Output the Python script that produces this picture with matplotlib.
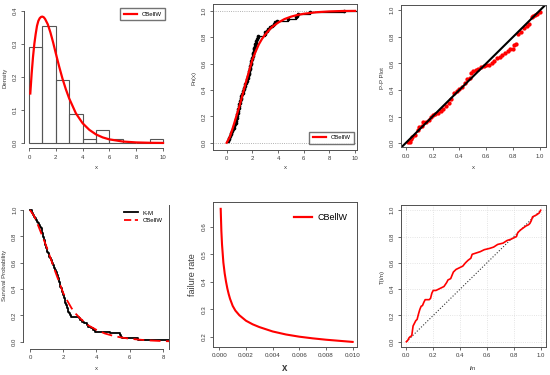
import matplotlib
matplotlib.use('Agg')
import matplotlib.pyplot as plt
import numpy as np

plt.rcParams['font.family'] = ['Liberation Sans', 'DejaVu Sans']

# ---------------- data ----------------
sample_x = [0.10, 0.15, 0.20, 0.25, 0.30, 0.35, 0.45, 0.50, 0.55, 0.60, 0.65, 0.70,
            0.72, 0.75, 0.78, 0.80, 0.82, 0.85, 0.88, 0.90, 0.93, 0.96, 0.99,
            1.02, 1.05, 1.08, 1.12, 1.15, 1.20, 1.25, 1.30, 1.35, 1.38, 1.42, 1.45,
            1.50, 1.55, 1.60, 1.63, 1.66, 1.70, 1.72, 1.75, 1.78, 1.80, 1.83, 1.86,
            1.90, 1.93, 1.96, 1.99,
            2.02, 2.05, 2.08, 2.10, 2.13, 2.16, 2.20, 2.23, 2.27, 2.30, 2.35, 2.40,
            2.45, 2.95, 2.98,
            3.10, 3.25, 3.40, 3.50, 3.65, 3.80, 3.90,
            4.80, 5.40, 5.50, 5.55, 6.50, 9.10]
hist_bins = [0, 1, 2, 3, 4, 5, 6, 7, 8, 9, 10]

dens_x = [0.1, 0.2, 0.3, 0.4, 0.5, 0.6, 0.7, 0.8, 0.9, 1.0, 1.1, 1.2, 1.4, 1.6, 1.8,
          2.0, 2.25, 2.5, 2.75, 3.0, 3.5, 4.0, 4.5, 5.0, 5.5, 6.0, 7.0, 8.0, 9.0, 10.0]
dens_y = [0.150, 0.210, 0.260, 0.300, 0.330, 0.355, 0.370, 0.378, 0.382, 0.383, 0.381,
          0.376, 0.360, 0.335, 0.305, 0.272, 0.232, 0.195, 0.163, 0.135, 0.090, 0.060,
          0.040, 0.026, 0.017, 0.011, 0.0045, 0.0018, 0.0007, 0.0003]

cdf_x = [0, 0.25, 0.5, 0.75, 1.0, 1.25, 1.5, 1.75, 2.0, 2.25, 2.5, 2.75, 3.0, 3.5,
         4.0, 4.5, 5.0, 5.5, 6.0, 7.0, 8.0, 9.0, 10.0]
cdf_y = [0, 0.045, 0.12, 0.20, 0.28, 0.37, 0.46, 0.545, 0.63, 0.69, 0.745, 0.787,
         0.82, 0.875, 0.91, 0.937, 0.955, 0.968, 0.977, 0.989, 0.995, 0.998, 0.999]

pp_x = [0.02, 0.03, 0.04, 0.05, 0.07, 0.09, 0.10, 0.12, 0.13, 0.15, 0.17, 0.19, 0.20,
        0.22, 0.24, 0.26, 0.28, 0.30, 0.32, 0.34, 0.36, 0.38, 0.40, 0.42, 0.44, 0.46,
        0.48, 0.49, 0.50, 0.52, 0.54, 0.56, 0.58, 0.60, 0.62, 0.64, 0.66, 0.68, 0.70,
        0.72, 0.74, 0.76, 0.78, 0.80, 0.81, 0.82, 0.84, 0.86, 0.88, 0.90, 0.92, 0.94,
        0.95, 0.96, 0.98, 1.00]
pp_y = [0.005, 0.010, 0.030, 0.045, 0.060, 0.100, 0.120, 0.130, 0.155, 0.160, 0.170,
        0.200, 0.210, 0.220, 0.230, 0.240, 0.260, 0.280, 0.300, 0.330, 0.380, 0.390,
        0.410, 0.420, 0.450, 0.480, 0.490, 0.530, 0.540, 0.550, 0.555, 0.570, 0.580,
        0.585, 0.590, 0.600, 0.620, 0.640, 0.650, 0.660, 0.680, 0.695, 0.705, 0.710,
        0.740, 0.745, 0.820, 0.840, 0.870, 0.880, 0.900, 0.950, 0.960, 0.965, 0.975, 0.990]

hz_x = [0.0001, 0.00015, 0.0002, 0.0003, 0.0004, 0.0005, 0.0006, 0.0007, 0.0008,
        0.001, 0.0012, 0.0015, 0.002, 0.0025, 0.003, 0.004, 0.005, 0.006, 0.007,
        0.008, 0.009, 0.010]
hz_y = [0.665, 0.585, 0.535, 0.470, 0.430, 0.400, 0.375, 0.355, 0.338, 0.312, 0.295,
        0.278, 0.258, 0.245, 0.235, 0.219, 0.208, 0.200, 0.194, 0.189, 0.185, 0.181]

ttt_x = [0.0, 0.01, 0.02, 0.03, 0.04, 0.05, 0.06, 0.07, 0.08, 0.09, 0.10, 0.11, 0.12,
         0.13, 0.14, 0.15, 0.17, 0.18, 0.19, 0.20, 0.22, 0.24, 0.26, 0.28, 0.30, 0.31,
         0.33, 0.35, 0.37, 0.40, 0.42, 0.44, 0.46, 0.48, 0.49, 0.52, 0.55, 0.58, 0.62,
         0.65, 0.68, 0.72, 0.75, 0.78, 0.80, 0.82, 0.83, 0.85, 0.87, 0.89, 0.91, 0.92,
         0.93, 0.94, 0.96, 0.97, 0.99, 1.00]
ttt_y = [0.0, 0.01, 0.03, 0.04, 0.045, 0.12, 0.14, 0.16, 0.17, 0.21, 0.245, 0.27,
         0.275, 0.30, 0.32, 0.32, 0.32, 0.33, 0.37, 0.39, 0.39, 0.40, 0.41, 0.42, 0.45,
         0.47, 0.48, 0.53, 0.55, 0.565, 0.575, 0.60, 0.62, 0.635, 0.665, 0.675, 0.685,
         0.70, 0.71, 0.72, 0.74, 0.75, 0.77, 0.78, 0.79, 0.80, 0.83, 0.85, 0.865, 0.88,
         0.89, 0.90, 0.92, 0.95, 0.96, 0.965, 0.98, 1.00]

legend_label = 'CBellW'
km_label = 'K-M'

# ---------------- helpers ----------------
W, H = 550, 375
fig = plt.figure(figsize=(5.5, 3.75), dpi=100)
AX = '#505050'
TX = '#3a3a3a'
RED = '#ff0000'
TS = 4.3


def box(x0, y0, x1, y1):
    return [x0 / W, 1 - y1 / H, (x1 - x0) / W, (y1 - y0) / H]


def ftext(x, y, s, rot=0, size=TS, **kw):
    fig.text(x / W, 1 - y / H, s, rotation=rot, fontsize=size, color=TX,
             ha='center', va='center', **kw)


def style(ax, xt, xl, yt, yl, size=TS):
    ax.set_xticks(xt)
    ax.set_xticklabels(xl)
    ax.set_yticks(yt)
    ax.set_yticklabels(yl, rotation=90, va='center')
    ax.tick_params(length=2.5, width=0.6, color=AX, labelsize=size,
                   labelcolor=TX, pad=2)
    for s in ax.spines.values():
        s.set_color(AX)
        s.set_linewidth(0.7)


def fmt(vals, f):
    return [f.format(v) for v in vals]


# ---------------- panel 1: histogram + density ----------------
ax1 = fig.add_axes(box(23.6, 5.7, 168.4, 148.3))
ax1.hist(sample_x, bins=hist_bins, density=True, fill=False, edgecolor='#555555',
         linewidth=0.8)
ax1.plot(dens_x, dens_y, color=RED, lw=1.6)
ax1.set_xlim(-0.4, 10.4)
ax1.set_ylim(-0.016, 0.416)
style(ax1, [0, 2, 4, 6, 8, 10], fmt([0, 2, 4, 6, 8, 10], '{}'),
      [0, 0.1, 0.2, 0.3, 0.4], fmt([0, 0.1, 0.2, 0.3, 0.4], '{:.1f}'))
ax1.spines['top'].set_visible(False)
ax1.spines['right'].set_visible(False)
ax1.spines['left'].set_bounds(0, 0.4)
ax1.spines['bottom'].set_bounds(0, 10)
ax1.legend(handles=[plt.Line2D([], [], color=RED, lw=1.6)], labels=[legend_label],
           loc='upper right', bbox_to_anchor=(168 / W, 1 - 5 / H),
           bbox_transform=fig.transFigure, fontsize=4.3, frameon=True, fancybox=False,
           edgecolor=AX, handlelength=2.2, borderpad=0.6, handletextpad=0.8)
ftext(5, 78, 'Density', rot=90)
ftext(96, 168, 'x')

# ---------------- panel 2: ECDF ----------------
ax2 = fig.add_axes(box(212.7, 3.5, 357.3, 150))
xs = np.sort(np.array(sample_x))
n = len(xs)
ys = np.arange(1, n + 1) / n
ax2.axhline(0, color='#999999', ls=':', lw=0.6)
ax2.axhline(1, color='#999999', ls=':', lw=0.6)
ax2.step(np.r_[xs, 11], np.r_[ys, 1.0], where='post', color='black', lw=0.9)
ax2.plot(xs, ys, 'o', color='black', ms=1.6)
ax2.plot(cdf_x, cdf_y, color=RED, lw=1.6)
ax2.set_xlim(-1.09, 10.17)
ax2.set_ylim(-0.055, 1.055)
style(ax2, [0, 2, 4, 6, 8, 10], fmt([0, 2, 4, 6, 8, 10], '{}'),
      [0, 0.2, 0.4, 0.6, 0.8, 1.0], fmt([0, 0.2, 0.4, 0.6, 0.8, 1.0], '{:.1f}'))
ax2.legend(handles=[plt.Line2D([], [], color=RED, lw=1.6)], labels=[legend_label],
           loc='lower right', bbox_to_anchor=(357.3 / W, 1 - 147 / H),
           bbox_transform=fig.transFigure, fontsize=4.3, frameon=True, fancybox=False,
           edgecolor=AX, handlelength=2.2, borderpad=0.6, handletextpad=0.8)
ftext(194, 78, 'Fn(x)', rot=90)
ftext(285, 168, 'x')

# ---------------- panel 3: P-P plot ----------------
ax3 = fig.add_axes(box(401, 5, 546, 147.3))
ax3.plot(pp_x, pp_y, 'o', color=RED, ms=3.1, mec='none')
ax3.axline((0, 0), (1, 1), color='black', lw=1.5)
ax3.set_xlim(-0.035, 1.045)
ax3.set_ylim(-0.032, 1.04)
t = [0, 0.2, 0.4, 0.6, 0.8, 1.0]
style(ax3, t, fmt(t, '{:.1f}'), t, fmt(t, '{:.1f}'))
ftext(382, 78, 'P-P Plot', rot=90)
ftext(473, 168, 'x')

# ---------------- panel 4: survival ----------------
ax4 = fig.add_axes(box(23.3, 205, 169, 349))
km_x = np.r_[0, xs]
km_y = np.r_[1.0, 1 - ys]
ax4.step(km_x, km_y, where='post', color='black', lw=1.3)
ax4.plot(cdf_x, [1 - v for v in cdf_y], color=RED, lw=1.3, ls=(0, (6, 3)))
ax4.set_xlim(-0.4, 8.36)
ax4.set_ylim(-0.055, 1.038)
style(ax4, [0, 2, 4, 6, 8], fmt([0, 2, 4, 6, 8], '{}'),
      [0, 0.2, 0.4, 0.6, 0.8, 1.0], fmt([0, 0.2, 0.4, 0.6, 0.8, 1.0], '{:.1f}'))
ax4.spines['top'].set_visible(False)
ax4.spines['left'].set_bounds(0, 1)
ax4.spines['bottom'].set_bounds(0, 8)
ax4.legend(handles=[plt.Line2D([], [], color='black', lw=1.3),
                    plt.Line2D([], [], color=RED, lw=1.3, ls=(0, (4, 2)))],
           labels=[km_label, legend_label], loc='upper right',
           bbox_to_anchor=(168 / W, 1 - 205 / H), bbox_transform=fig.transFigure,
           fontsize=4.3, frameon=False, handlelength=2.4, handletextpad=0.8,
           labelspacing=0.35)
ftext(5, 275, 'Survival Probability', rot=90)
ftext(96, 368, 'x')

# ---------------- panel 5: failure rate ----------------
ax5 = fig.add_axes(box(212.7, 201.7, 357.3, 346.7))
ax5.plot(hz_x, hz_y, color=RED, lw=1.5)
ax5.set_xlim(-0.0005, 0.01035)
ax5.set_ylim(0.1636, 0.691)
xt5 = [0, 0.002, 0.004, 0.006, 0.008, 0.010]
yt5 = [0.2, 0.3, 0.4, 0.5, 0.6]
style(ax5, xt5, fmt(xt5, '{:.3f}'), yt5, fmt(yt5, '{:.1f}'), size=4.5)
ax5.legend(handles=[plt.Line2D([], [], color=RED, lw=1.6)], labels=[legend_label],
           loc='upper right', bbox_to_anchor=(356 / W, 1 - 205 / H),
           bbox_transform=fig.transFigure, fontsize=6.5, frameon=False,
           handlelength=2.0, handletextpad=0.6)
ftext(192, 275, 'failure rate', rot=90, size=6.5)
ftext(285, 368, 'x', size=7, fontweight='bold')

# ---------------- panel 6: TTT ----------------
ax6 = fig.add_axes(box(401, 205, 546, 347))
t6 = [0, 0.2, 0.4, 0.6, 0.8, 1.0]
ax6.grid(True, color='#dcdcdc', ls=':', lw=0.6)
ax6.set_axisbelow(True)
ax6.plot([0, 1], [0, 1], color='#333333', ls=':', lw=0.8)
ax6.plot(ttt_x, ttt_y, color=RED, lw=1.2)
ax6.set_xlim(-0.04, 1.04)
ax6.set_ylim(-0.04, 1.04)
style(ax6, t6, fmt(t6, '{:.1f}'), t6, fmt(t6, '{:.1f}'))
ftext(382, 277, 'T(i/n)', rot=90)
ftext(473, 368, 'i/n')

fig.savefig('out.png', dpi=100)
